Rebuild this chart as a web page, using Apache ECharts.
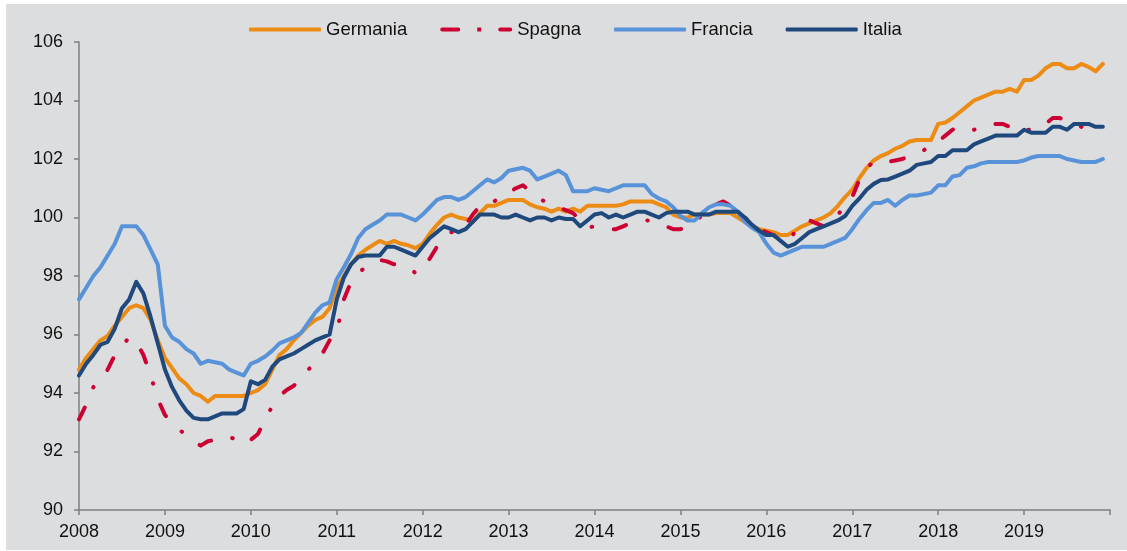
<!DOCTYPE html>
<html>
<head>
<meta charset="utf-8">
<script src="https://cdn.jsdelivr.net/npm/echarts@6/dist/echarts.min.js"></script>
<style>
  html, body { margin: 0; padding: 0; background: #fff; }
  #chart { position: absolute; left: 6px; top: 4px; width: 1121px; height: 546px; background: #dcdddf; }
</style>
</head>
<body>
<div id="chart"></div>
<script>
// monthly categories Jan 2008 .. Jan 2020 (last one only closes the axis)
const firstYear = 2008;
const lastYear = 2019;
const months = [];
for (let y = firstYear; y <= lastYear + 1; y++) {
  for (let m = 1; m <= 12; m++) {
    if (y > lastYear && m > 1) break;
    months.push(y + '-' + String(m).padStart(2, '0'));
  }
}

const germania = [
  94.8, 95.2, 95.5, 95.8, 95.95, 96.3, 96.6, 96.9, 97.0, 96.9, 96.5, 95.8,
  95.2, 94.85, 94.5, 94.3, 94.0, 93.9, 93.7, 93.9, 93.9, 93.9, 93.9, 93.9,
  94.0, 94.1, 94.3, 94.8, 95.3, 95.5, 95.8, 96.05, 96.3, 96.5, 96.6, 96.9,
  97.6, 98.0, 98.4, 98.7, 98.9, 99.05, 99.2, 99.1, 99.2, 99.1, 99.05, 98.95,
  99.1, 99.45, 99.75, 100.0, 100.1, 100.0, 99.95, 99.85, 100.15, 100.4, 100.4, 100.5,
  100.6, 100.6, 100.6, 100.45, 100.35, 100.3, 100.2, 100.3, 100.2, 100.3, 100.2, 100.4,
  100.4, 100.4, 100.4, 100.4, 100.45, 100.55, 100.55, 100.55, 100.55, 100.45, 100.35, 100.1,
  100.0, 100.0, 100.1, 100.1, 100.1, 100.15, 100.15, 100.15, 100.0, 99.85, 99.7, 99.6,
  99.55, 99.5, 99.4, 99.4, 99.55, 99.7, 99.8, 99.9, 100.0, 100.15, 100.4, 100.7,
  100.95, 101.35, 101.7, 101.95, 102.1, 102.2, 102.35, 102.45, 102.6, 102.65, 102.65, 102.65,
  103.2, 103.25, 103.4, 103.6, 103.8, 104.0, 104.1, 104.2, 104.3, 104.3, 104.4, 104.3,
  104.7, 104.7, 104.85, 105.1, 105.25, 105.25, 105.1, 105.1, 105.25, 105.15, 105.0, 105.25
];

const spagna = [
  93.1, 93.6, 94.2, 94.5, 94.8, 95.3, 95.6, 95.9, 95.75, 95.3, 94.6, 93.8,
  93.25, 93.0, 92.75, 92.55, 92.35, 92.2, 92.35, 92.4, 92.5, 92.5, 92.4, 92.25,
  92.4, 92.6, 93.1, 93.55, 93.9, 94.1, 94.25, 94.5, 94.8, 95.0, 95.35, 95.8,
  96.1, 97.2, 97.8, 98.1, 98.3, 98.4, 98.55, 98.5, 98.4, 98.35, 98.3, 98.1,
  98.2, 98.6, 99.0, 99.3, 99.5, 99.5, 99.75, 100.1, 100.4, 100.55, 100.55, 100.75,
  100.85, 101.0, 101.1, 100.9, 100.7, 100.55, 100.45, 100.35, 100.25, 100.15, 99.9, 99.65,
  99.7, 99.65, 99.6, 99.6, 99.7, 99.8, 99.85, 99.9, 99.9, 99.8, 99.7, 99.6,
  99.6, 99.7, 99.9, 100.05, 100.3, 100.45, 100.55, 100.4, 100.2, 100.0, 99.8, 99.6,
  99.5, 99.4, 99.2, 99.2, 99.5, 99.7, 99.9, 99.8, 99.7, 99.9, 100.1, 100.4,
  100.7, 101.3, 101.7, 101.9, 101.95, 101.9, 101.95, 102.0, 102.1, 102.2, 102.3, 102.5,
  102.6, 102.8, 103.0, 103.1, 103.05, 103.0, 103.1, 103.2, 103.2, 103.2, 103.1, 102.95,
  103.0, 103.0, 103.1, 103.2, 103.4, 103.4, 103.3, 103.2, 103.1, 103.0, 103.0, 103.0
];

const francia = [
  97.2, 97.6, 98.0, 98.3, 98.7, 99.1, 99.7, 99.7, 99.7, 99.4, 98.9, 98.4,
  96.3, 95.9, 95.75, 95.5, 95.35, 95.0, 95.1, 95.05, 95.0, 94.8, 94.7, 94.6,
  95.0, 95.1, 95.25, 95.45, 95.7, 95.8, 95.9, 96.05, 96.4, 96.75, 97.0, 97.1,
  97.9, 98.3, 98.75, 99.3, 99.6, 99.75, 99.9, 100.1, 100.1, 100.1, 100.0, 99.9,
  100.1, 100.35, 100.6, 100.7, 100.7, 100.6, 100.7, 100.9, 101.1, 101.3, 101.2, 101.35,
  101.6, 101.65, 101.7, 101.6, 101.3, 101.4, 101.5, 101.6, 101.45, 100.9, 100.9, 100.9,
  101.0, 100.95, 100.9, 101.0, 101.1, 101.1, 101.1, 101.1, 100.8, 100.65, 100.55, 100.35,
  100.05, 99.9, 99.9, 100.15, 100.35, 100.45, 100.45, 100.4, 100.2, 99.85, 99.65, 99.5,
  99.1, 98.8, 98.7, 98.8, 98.9, 99.0, 99.0, 99.0, 99.0, 99.1, 99.2, 99.3,
  99.6, 99.95, 100.25, 100.5, 100.5, 100.6, 100.4, 100.6, 100.75, 100.75, 100.8, 100.85,
  101.1, 101.1, 101.4, 101.45, 101.7, 101.75, 101.85, 101.9, 101.9, 101.9, 101.9, 101.9,
  101.95, 102.05, 102.1, 102.1, 102.1, 102.1, 102.0, 101.95, 101.9, 101.9, 101.9, 102.0
];

const italia = [
  94.6, 95.0, 95.3, 95.65, 95.75, 96.2, 96.9, 97.2, 97.8, 97.4, 96.6, 95.7,
  94.8, 94.2, 93.75, 93.4, 93.15, 93.1, 93.1, 93.2, 93.3, 93.3, 93.3, 93.45,
  94.4, 94.3, 94.45, 94.9, 95.15, 95.25, 95.35, 95.5, 95.65, 95.8, 95.9, 96.0,
  97.2, 97.95, 98.4, 98.65, 98.7, 98.7, 98.7, 99.0, 99.0, 98.9, 98.8, 98.7,
  99.0, 99.3, 99.5, 99.7, 99.6, 99.5, 99.6, 99.85, 100.1, 100.1, 100.1, 100.0,
  100.0, 100.1, 100.0, 99.9, 100.0, 100.0, 99.9, 100.0, 99.95, 99.95, 99.7, 99.9,
  100.1, 100.15, 100.0, 100.1, 100.0, 100.1, 100.2, 100.2, 100.1, 100.0, 100.15, 100.2,
  100.2, 100.2, 100.1, 100.1, 100.1, 100.2, 100.2, 100.2, 100.2, 100.0, 99.75, 99.55,
  99.4, 99.4, 99.2, 99.0, 99.1, 99.3, 99.5, 99.6, 99.7, 99.8, 99.9, 100.05,
  100.4, 100.65, 100.95, 101.15, 101.28, 101.3, 101.4, 101.5, 101.6, 101.8, 101.85, 101.9,
  102.1, 102.1, 102.3, 102.3, 102.3, 102.5, 102.6, 102.7, 102.8, 102.8, 102.8, 102.8,
  103.0, 102.9, 102.9, 102.9, 103.1, 103.1, 103.0, 103.2, 103.2, 103.2, 103.1, 103.1
];

const yMin = 90, yMax = 106, yStep = 2;

const font = '"Liberation Sans", Arial, sans-serif';
const axisGrey = '#7f7f7f';
const isJanuary = (index) => index % 12 === 0;
// legend glyph for the dash-dot series: dash, dot, dash
const dashDotIcon = 'path://M2,0H18A2,2 0 0 1 18,4H2A2,2 0 0 1 2,0Z M37,0H41V4H37Z M60,0H70A2,2 0 0 1 70,4H60A2,2 0 0 1 60,0Z';

const chart = echarts.init(document.getElementById('chart'));

function line(name, data, color, extra) {
  return {
    name: name,
    type: 'line',
    data: data,
    symbol: 'none',
    showSymbol: false,
    lineStyle: Object.assign({ color: color, width: 4, cap: 'round', join: 'round' }, extra || {}),
    itemStyle: { color: color },
    emphasis: { disabled: true }
  };
}

chart.setOption({
  animation: false,
  backgroundColor: '#dcdddf',
  textStyle: { fontFamily: font },
  legend: {
    left: 238,
    top: 11,
    itemWidth: 72,
    itemHeight: 4,
    itemGap: 33,
    textStyle: { fontSize: 18.5, color: '#111', fontFamily: font },
    data: [
      { name: 'Germania', icon: 'roundRect' },
      { name: 'Spagna', icon: dashDotIcon },
      { name: 'Francia', icon: 'roundRect' },
      { name: 'Italia', icon: 'roundRect' }
    ]
  },
  grid: { left: 73, right: 17, top: 38, bottom: 40, containLabel: false },
  xAxis: {
    type: 'category',
    data: months,
    boundaryGap: false,
    axisLine: { lineStyle: { color: axisGrey, width: 1.5 } },
    axisTick: { interval: isJanuary, length: 5, lineStyle: { color: axisGrey, width: 1.5 } },
    axisLabel: {
      interval: isJanuary,
      margin: 13,
      fontSize: 18,
      color: '#111',
      fontFamily: font,
      formatter: (v) => (Number(v.slice(0, 4)) <= lastYear ? v.slice(0, 4) : '')
    },
    splitLine: { show: false }
  },
  yAxis: {
    type: 'value',
    min: yMin,
    max: yMax,
    interval: yStep,
    axisLine: { show: true, lineStyle: { color: axisGrey, width: 1.5 } },
    axisTick: { show: true, length: 5, lineStyle: { color: axisGrey, width: 1.5 } },
    axisLabel: { margin: 16, fontSize: 18, color: '#111', fontFamily: font },
    splitLine: { show: false }
  },
  series: [
    line('Germania', germania, '#ec8c14'),
    line('Spagna', spagna, '#cc0033', { type: [13, 22, 0.5, 22] }),
    line('Francia', francia, '#5892d8'),
    line('Italia', italia, '#1f497d')
  ]
});
</script>
</body>
</html>
